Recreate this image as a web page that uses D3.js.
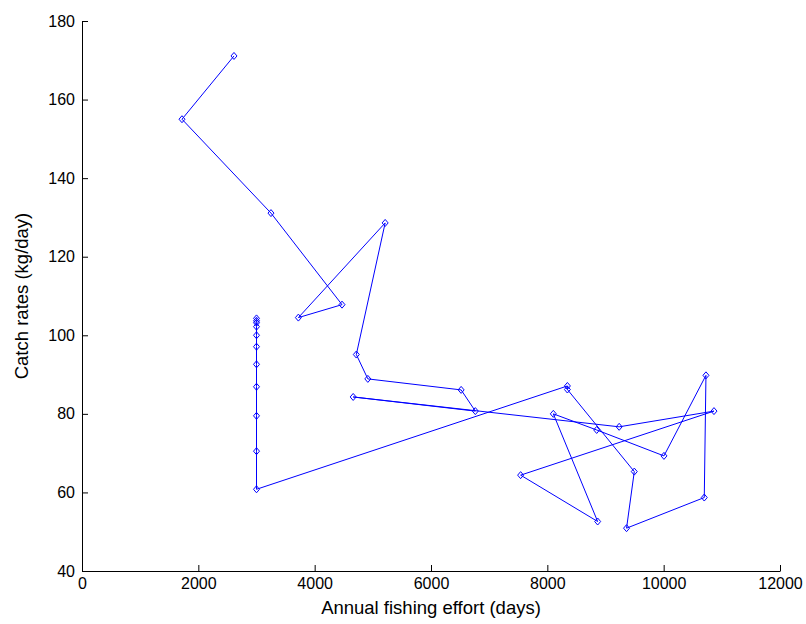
<!DOCTYPE html>
<html><head><meta charset="utf-8">
<script src="https://cdn.jsdelivr.net/npm/d3@7/dist/d3.min.js"></script>
<style>body{margin:0;background:#fff}svg text{font-family:"Liberation Sans",Arial,sans-serif;fill:#000}</style>
</head><body><svg id="c" width="806" height="624"></svg>
<script>
// Time-ordered trajectory: annual fishing effort (days) vs catch rate (kg/day)
const effort = [2613, 1719, 3249, 4470, 3720, 5212, 4716, 4914, 6518, 6762, 4662,
  9235, 10865, 7541, 8865, 8103, 8848, 10005, 10727, 10698, 9362, 9495, 8345, 8345,
  3000, 3000, 3000, 3000, 3000, 3000, 3000, 3000, 3000, 3000, 3000];
const catchRate = [171.1, 155.0, 131.1, 107.8, 104.5, 128.6, 95.1, 88.9, 86.1, 80.7, 84.3,
  76.7, 80.7, 64.4, 52.6, 80.0, 75.9, 69.3, 89.8, 58.7, 50.9, 65.3, 86.2, 87.1,
  60.8, 70.5, 79.5, 86.9, 92.6, 97.1, 100.0, 102.2, 103.2, 103.7, 104.3];
const xTicks = [0, 2000, 4000, 6000, 8000, 10000, 12000];
const yTicks = [40, 60, 80, 100, 120, 140, 160, 180];
const xTitle = "Annual fishing effort (days)";
const yTitle = "Catch rates (kg/day)";

const svg = d3.select("#c");
const L = 82, R = 780, T = 21, B = 571;
const x = d3.scaleLinear().domain([0, 12000]).range([L, R]);
const y = d3.scaleLinear().domain([40, 180]).range([B, T]);

const xAxis = svg.append("g").attr("transform", `translate(0,${B})`)
  .call(d3.axisBottom(x).tickValues(xTicks).tickFormat(d3.format("d")).tickSizeInner(-6).tickSizeOuter(0).tickPadding(13));
const yAxis = svg.append("g").attr("transform", `translate(${L},0)`)
  .call(d3.axisLeft(y).tickValues(yTicks).tickFormat(d3.format("d")).tickSizeInner(-6).tickSizeOuter(0).tickPadding(13));
[xAxis, yAxis].forEach(a => {
  a.select(".domain").attr("stroke", "#000").attr("stroke-width", 1);
  a.selectAll(".tick line").attr("stroke", "#000");
  a.selectAll(".tick text").style("font-size", "16px").attr("fill", "#000");
});
xAxis.selectAll(".tick text").attr("dy", "0.71em").attr("y", 7);
yAxis.selectAll(".tick text").attr("x", -7);

svg.append("text").attr("x", (L + R) / 2).attr("y", 614).attr("text-anchor", "middle")
  .style("font-size", "18.5px").text(xTitle);
svg.append("text").attr("transform", `translate(28,${(T + B) / 2}) rotate(-90)`)
  .attr("text-anchor", "middle").style("font-size", "18.5px").text(yTitle);

const pts = effort.map((e, i) => [e, catchRate[i]]);
svg.append("path").datum(pts)
  .attr("d", d3.line().x(d => x(d[0])).y(d => y(d[1])))
  .attr("fill", "none").attr("stroke", "#0000ff").attr("stroke-width", 1);
svg.append("g").selectAll("path").data(pts).join("path")
  .attr("transform", d => `translate(${x(d[0])},${y(d[1])})`)
  .attr("d", "M0,-3.5L3,0L0,3.5L-3,0Z")
  .attr("fill", "none").attr("stroke", "#0000ff").attr("stroke-width", 1);
</script></body></html>
